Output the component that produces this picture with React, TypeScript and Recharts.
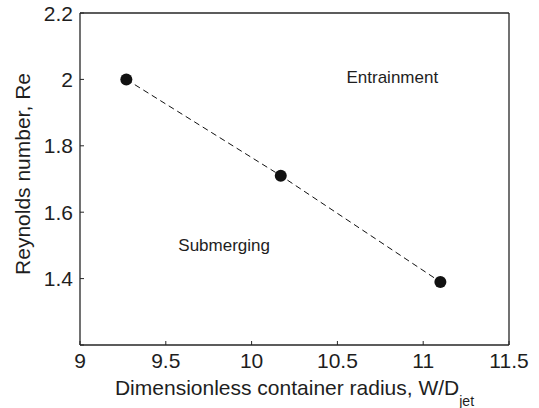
import React from 'react';
import { ScatterChart, Scatter, XAxis, YAxis, ReferenceDot, Label } from 'recharts';

const radius = [9.27, 10.17, 11.1];
const reynolds = [2.0, 1.71, 1.39];
const xTicks = [9, 9.5, 10, 10.5, 11, 11.5];
const yTicks = [1.2, 1.4, 1.6, 1.8, 2, 2.2];
const hiddenYTicks = [1.2];
const regionNames = ['Entrainment', 'Submerging'];
const regionX = [10.82, 9.84];
const regionY = [2.007, 1.5];

const data = radius.map((r, i) => ({ x: r, y: reynolds[i] }));
const regions = regionNames.map((n, i) => ({ name: n, x: regionX[i], y: regionY[i] }));

const FONT = '"Liberation Sans", Arial, Helvetica, sans-serif';
const INK = '#1e1e1e';
const AXIS = '#262626';

const XTick = (props: any) => {
  const { x, y, payload } = props;
  return (
    <text x={x} y={y + 23} textAnchor="middle" fontSize={21} fill={INK} fontFamily={FONT}>
      {String(payload.value)}
    </text>
  );
};

const YTick = (props: any) => {
  const { x, y, payload } = props;
  if (hiddenYTicks.includes(payload.value)) return null;
  return (
    <text x={x} y={y + 7.5} textAnchor="end" fontSize={21} fill={INK} fontFamily={FONT}>
      {String(payload.value)}
    </text>
  );
};

const XLabel = (props: any) => {
  const vb = props.viewBox;
  const cx = vb.x + vb.width / 2;
  return (
    <text x={cx} y={395} textAnchor="middle" fontSize={21} fill={INK} fontFamily={FONT}>
      Dimensionless container radius, W/D
      <tspan dy={11} fontSize={14}>jet</tspan>
    </text>
  );
};

const YLabel = (props: any) => {
  const vb = props.viewBox;
  const cy = vb.y + vb.height / 2 - 5;
  return (
    <text
      x={30}
      y={cy}
      textAnchor="middle"
      fontSize={21}
      fill={INK}
      fontFamily={FONT}
      transform={`rotate(-90, 30, ${cy})`}
    >
      Reynolds number, Re
    </text>
  );
};

const Dot = (props: any) => <circle cx={props.cx} cy={props.cy} r={6} fill="#111" />;

export default function App() {
  return (
    <div style={{ position: 'absolute', left: 0, top: 0, background: '#fff' }}>
      <ScatterChart width={539} height={408} margin={{ top: 12, right: 29, bottom: 0, left: 0 }}>
        <XAxis
          xAxisId={0}
          type="number"
          dataKey="x"
          domain={[9, 11.5]}
          ticks={xTicks}
          allowDataOverflow
          orientation="bottom"
          height={63}
          tickSize={-4}
          tickMargin={4}
          tick={<XTick />}
          axisLine={{ stroke: AXIS, strokeWidth: 1.3 }}
          tickLine={{ stroke: AXIS, strokeWidth: 1 }}
        >
          <Label content={<XLabel />} />
        </XAxis>
        <XAxis
          xAxisId="top"
          type="number"
          dataKey="x"
          domain={[9, 11.5]}
          ticks={xTicks}
          allowDataOverflow
          orientation="top"
          height={1}
          tickSize={-4}
          tick={false}
          axisLine={{ stroke: AXIS, strokeWidth: 1.3 }}
          tickLine={{ stroke: AXIS, strokeWidth: 1 }}
        />
        <YAxis
          yAxisId={0}
          type="number"
          dataKey="y"
          domain={[1.2, 2.2]}
          ticks={yTicks}
          allowDataOverflow
          orientation="left"
          width={80}
          tickSize={-4}
          tickMargin={11}
          tick={<YTick />}
          axisLine={{ stroke: AXIS, strokeWidth: 1.3 }}
          tickLine={{ stroke: AXIS, strokeWidth: 1 }}
        >
          <Label content={<YLabel />} />
        </YAxis>
        <YAxis
          yAxisId="right"
          type="number"
          dataKey="y"
          domain={[1.2, 2.2]}
          ticks={yTicks}
          allowDataOverflow
          orientation="right"
          width={1}
          tickSize={-4}
          tick={false}
          axisLine={{ stroke: AXIS, strokeWidth: 1.3 }}
          tickLine={{ stroke: AXIS, strokeWidth: 1 }}
        />
        <Scatter
          data={data}
          xAxisId={0}
          yAxisId={0}
          isAnimationActive={false}
          line={{ stroke: '#111', strokeWidth: 1, strokeDasharray: '6 4' }}
          shape={<Dot />}
        />
        {regions.map((r) => (
          <ReferenceDot
            key={r.name}
            x={r.x}
            y={r.y}
            xAxisId={0}
            yAxisId={0}
            r={0}
            fill="none"
            stroke="none"
            label={(p: any) => {
              const vb = p.viewBox;
              const cx = vb.x + vb.width / 2;
              const cy = vb.y + vb.height / 2;
              return (
                <text x={cx} y={cy + 6} textAnchor="middle" fontSize={17} fill={INK} fontFamily={FONT}>
                  {r.name}
                </text>
              );
            }}
          />
        ))}
      </ScatterChart>
    </div>
  );
}
